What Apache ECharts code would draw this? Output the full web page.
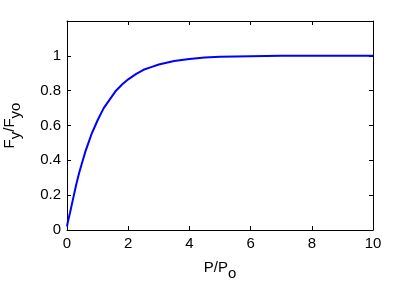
<!DOCTYPE html>
<html><head><meta charset="utf-8">
<script src="https://cdn.jsdelivr.net/npm/echarts@6/dist/echarts.min.js"></script>
<style>html,body{margin:0;padding:0;background:#fff}#c{width:414px;height:285px}</style>
</head><body><div id="c"></div>
<script>
var xValues = [0, 0.02, 0.1, 0.2, 0.3, 0.4, 0.5, 0.6, 0.7, 0.8, 0.9, 1.0, 1.2, 1.4, 1.6, 1.8, 2.0, 2.25, 2.5, 2.75, 3.0, 3.5, 4.0, 4.5, 5.0, 6.0, 7.0, 8.0, 9.0, 10.0];
var yValues = [0.02, 0.04, 0.10, 0.18, 0.26, 0.33, 0.39, 0.45, 0.50, 0.55, 0.59, 0.63, 0.70, 0.75, 0.80, 0.835, 0.865, 0.895, 0.92, 0.935, 0.95, 0.97, 0.982, 0.99, 0.995, 0.998, 1.0, 1.0, 1.0, 1.0];
var xTicks = [0, 2, 4, 6, 8, 10];
var yTicks = [0, 0.2, 0.4, 0.6, 0.8, 1];

var data = xValues.map(function (x, i) { return [x, yValues[i]]; });
var FONT = '"Liberation Sans", Arial, sans-serif';
var axisLine = { show: true, onZero: false, lineStyle: { color: '#000', width: 1 } };
var tick = { show: true, inside: true, length: 4, lineStyle: { color: '#000' } };
var chart = echarts.init(document.getElementById('c'), null, { renderer: 'canvas' });
chart.setOption({
  animation: false,
  backgroundColor: '#fff',
  grid: { left: 67, top: 21, width: 306, height: 209, containLabel: false, outerBoundsMode: 'none' },
  xAxis: [{
    type: 'value', min: 0, max: 10, interval: 2, position: 'bottom',
    axisLine: axisLine, axisTick: tick, splitLine: { show: false },
    axisLabel: { color: '#000', fontSize: 15, fontFamily: FONT, margin: 6,
      formatter: function (v) { return xTicks.indexOf(v) >= 0 ? String(v) : ''; } },
    name: '{a|P/P}{s|o}', nameLocation: 'middle', nameGap: 30,
    nameTextStyle: { color: '#000', fontSize: 15, fontFamily: FONT,
      rich: { a: { fontSize: 15, fontFamily: FONT, color: '#000', padding: [0, 0, 6, 0] },
              s: { fontSize: 15, fontFamily: FONT, color: '#000', padding: [6, 0, 0, 0] } } }
  }, {
    type: 'value', min: 0, max: 10, interval: 2, position: 'top',
    axisLine: axisLine, axisTick: tick, axisLabel: { show: false }, splitLine: { show: false }
  }],
  yAxis: [{
    type: 'value', min: 0, max: 1.2, interval: 0.2, position: 'left',
    axisLine: axisLine, axisTick: tick, splitLine: { show: false },
    axisLabel: { color: '#000', fontSize: 15, fontFamily: FONT, margin: 6,
      formatter: function (v) {
        var r = Math.round(v * 10) / 10;
        return (yTicks.indexOf(r) >= 0 && v < 1.1) ? String(r) : '';
      } },
    name: '{a|F}{s|y}{a|/F}{s|yo}', nameLocation: 'middle', nameGap: 44, nameRotate: 90,
    nameTextStyle: { color: '#000', fontSize: 15, fontFamily: FONT,
      rich: { a: { fontSize: 15, fontFamily: FONT, color: '#000', padding: [0, 0, 6, 0] },
              s: { fontSize: 15, fontFamily: FONT, color: '#000', padding: [6, 0, 0, 0] } } }
  }, {
    type: 'value', min: 0, max: 1.2, interval: 0.2, position: 'right',
    axisLine: axisLine, axisTick: tick, axisLabel: { show: false }, splitLine: { show: false }
  }],
  series: [{
    type: 'line', xAxisIndex: 0, yAxisIndex: 0, data: data,
    showSymbol: false, smooth: false,
    lineStyle: { color: '#0000ff', width: 2 }
  }]
});
</script></body></html>
